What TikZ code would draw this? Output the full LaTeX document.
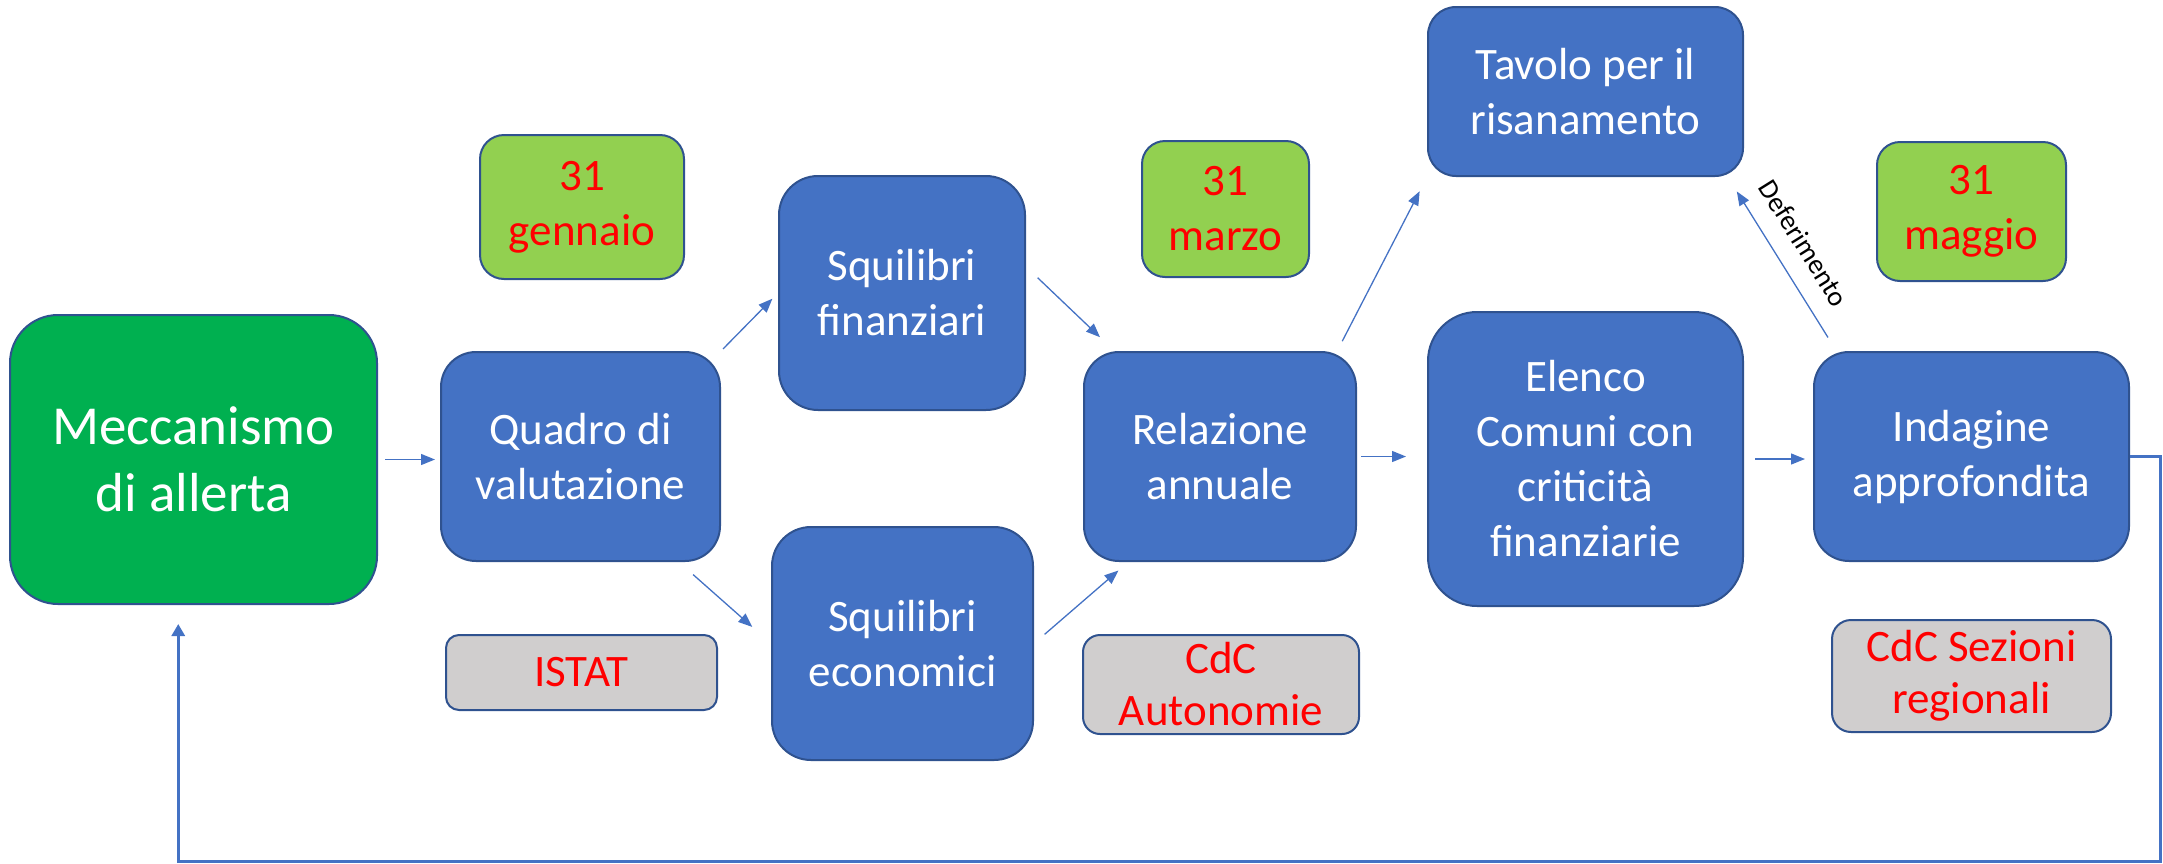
\documentclass[tikz,border=0pt]{standalone}
\usepackage{fontspec}
\setmainfont{Carlito}
\usetikzlibrary{arrows.meta,calc}
\definecolor{bluefill}{HTML}{4472C4}
\definecolor{edgeblue}{HTML}{2F528F}
\definecolor{maingreen}{HTML}{00B050}
\definecolor{lightgreen}{HTML}{92D050}
\definecolor{greyfill}{HTML}{D0CECE}
\definecolor{redtext}{HTML}{FF0000}
\begin{document}
\begin{tikzpicture}[x=1pt,y=-1pt,
  box/.style={draw=edgeblue, line width=2pt, rectangle, align=center, inner sep=0pt},
  bluebox/.style={box, fill=bluefill, text=white, font=\fontsize{45}{55}\selectfont},
  mainbox/.style={box, fill=maingreen, text=white, font=\fontsize{55}{67}\selectfont},
  datebox/.style={box, fill=lightgreen, text=redtext, font=\fontsize{45}{55}\selectfont},
  srcbox/.style={box, fill=greyfill, text=redtext, font=\fontsize{45}{52}\selectfont},
  arr/.style={draw=bluefill, line width=1.3pt, -{Triangle[length=14pt,width=11pt]}},
  fb/.style={draw=bluefill, line width=3pt, -{Triangle[length=12pt,width=13pt]}},
  lbl/.style={font=\fontsize{28}{32}\selectfont, text=black, inner sep=0pt}
]
\useasboundingbox (0,0) rectangle (2163,863);

% main nodes
\node[mainbox, minimum width=367pt, minimum height=289pt, rounded corners=48pt] (mecc) at (193.5,459.5) {Meccanismo\\di allerta};
\node[bluebox, minimum width=279pt, minimum height=209pt, rounded corners=35pt] (quadro) at (580.5,456.5) {Quadro di\\valutazione};
\node[datebox, minimum width=204pt, minimum height=144pt, rounded corners=24pt] (gen) at (582,207) {31\\gennaio};
\node[srcbox, minimum width=271pt, minimum height=75pt, rounded corners=13pt] (istat) at (581.5,672.5) {ISTAT};
\node[bluebox, minimum width=246pt, minimum height=234pt, rounded corners=39pt] (sqfin) at (902,293) {Squilibri\\finanziari};
\node[bluebox, minimum width=261pt, minimum height=233pt, rounded corners=39pt] (sqeco) at (902.5,643.5) {Squilibri\\economici};
\node[datebox, minimum width=167pt, minimum height=136pt, rounded corners=23pt] (mar) at (1225.5,209) {31\\marzo};
\node[bluebox, minimum width=272pt, minimum height=209pt, rounded corners=35pt] (rel) at (1220,456.5) {Relazione\\annuale};
\node[srcbox, minimum width=276pt, minimum height=99pt, rounded corners=17pt] (cdca) at (1221,684.5) {CdC\\Autonomie};
\node[bluebox, minimum width=315pt, minimum height=169pt, rounded corners=28pt] (tav) at (1585.5,91.5) {Tavolo per il\\risanamento};
\node[bluebox, minimum width=315pt, minimum height=294pt, rounded corners=49pt] (elen) at (1585.5,459) {Elenco\\Comuni con\\criticità\\finanziarie};
\node[datebox, minimum width=189pt, minimum height=139pt, rounded corners=23pt] (mag) at (1971.5,211.5) {31\\maggio};
\node[bluebox, minimum width=315pt, minimum height=209pt, rounded corners=35pt] (ind) at (1971.5,456.5) {Indagine\\approfondita};
\node[srcbox, minimum width=279pt, minimum height=112pt, rounded corners=19pt] (cdcs) at (1971.5,676) {CdC Sezioni\\regionali};

% connectors
\draw[arr, shorten <=7pt, shorten >=5pt] (mecc.east) -- (mecc.east -| quadro.west);
\draw[arr, shorten <=3pt, shorten >=8pt] (quadro.north east) -- (sqfin.west);
\draw[arr, shorten <=19pt, shorten >=25pt] (quadro.-47) -- (sqeco.west);
\draw[arr, shorten <=16pt, shorten >=20pt] (sqfin.12) -- (rel.135);
\draw[arr, shorten <=14pt, shorten >=13pt] (sqeco.east) -- (rel.-131);
\draw[arr, shorten <=11pt, shorten >=16pt] (rel.42) -- (tav.south west);
\draw[arr, shorten <=4pt, shorten >=21pt] (rel.east) -- (rel.east -| elen.west);
\draw[arr, shorten <=11pt, shorten >=8pt] (elen.east) -- (elen.east -| ind.west);
\draw[arr, shorten <=16pt, shorten >=17pt] (ind.142) -- node[lbl, sloped, pos=0.53, anchor=south, yshift=19pt] (deflbl) {Deferimento} (tav.-31);

% feedback loop
\coordinate (fbr) at (2160,861);
\coordinate (fbin) at ($(mecc.south west)!0.4587!(mecc.south east)$);
\draw[fb, shorten >=19pt] (ind.east) -| (fbr) -| (fbin);
\end{tikzpicture}
\end{document}
